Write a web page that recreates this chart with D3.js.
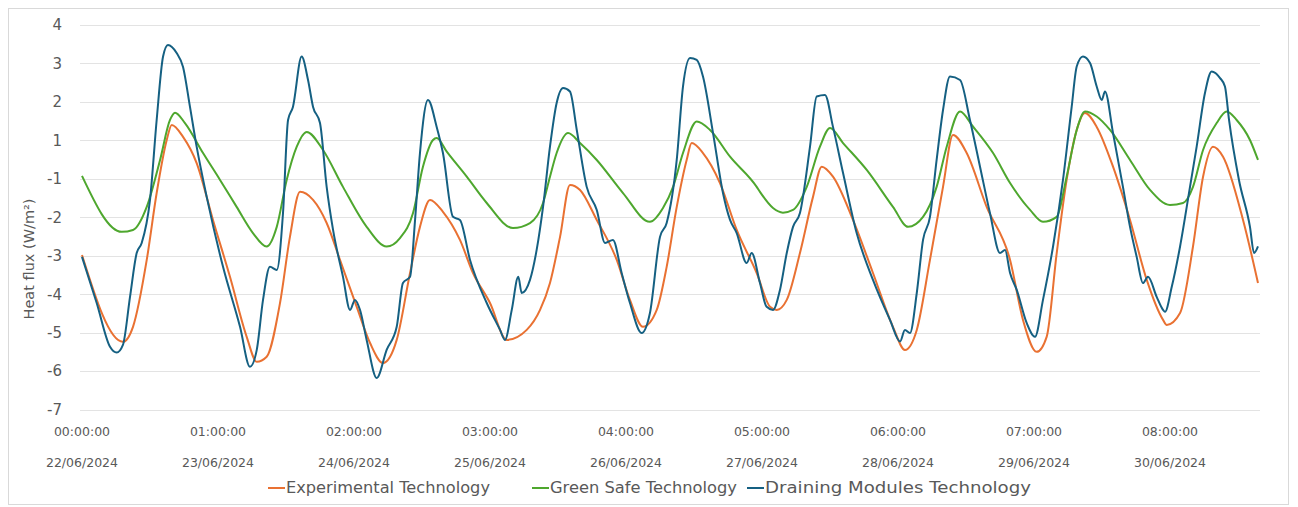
<!DOCTYPE html>
<html>
<head>
<meta charset="utf-8">
<script src="https://cdn.jsdelivr.net/npm/d3@7"></script>
<style>
  body { margin: 0; background: #fff; }
  svg text { font-family: "DejaVu Sans", sans-serif; fill: #595959; }
</style>
</head>
<body>
<div class="chart"></div>
<script>
// y tick labels (the chart skips 0: 1 is followed directly by -1)
const yTicks = [4, 3, 2, 1, -1, -2, -3, -4, -5, -6, -7];
const dayTicks = [0, 1, 2, 3, 4, 5, 6, 7, 8];
const timeLabels = ["00:00:00", "01:00:00", "02:00:00", "03:00:00", "04:00:00",
  "05:00:00", "06:00:00", "07:00:00", "08:00:00"];
const dateLabels = ["22/06/2024", "23/06/2024", "24/06/2024", "25/06/2024", "26/06/2024",
  "27/06/2024", "28/06/2024", "29/06/2024", "30/06/2024"];

const seriesNames = ["Experimental Technology", "Green Safe Technology", "Draining Modules Technology"];
const seriesColors = ["#E97132", "#4EA72E", "#156082"];

// [day, heat flux]
const experimental = [
  [0, -2.98], [0.301, -5.24], [0.375, -4.85], [0.476, -3.11], [0.549, -1.37], [0.623, 1.01],
  [0.660, 1.40], [0.743, 1.09], [0.843, -0.18], [0.963, -2.07], [1.088, -3.55], [1.211, -5.11],
  [1.285, -5.76], [1.358, -5.63], [1.456, -4.23], [1.529, -2.51], [1.603, -1.34], [1.699, -1.55],
  [1.799, -2.15], [1.897, -3.11], [2.020, -4.33], [2.118, -5.27], [2.213, -5.79], [2.314, -5.19],
  [2.412, -3.45], [2.485, -2.25], [2.559, -1.55], [2.654, -1.86], [2.779, -2.59], [2.875, -3.45],
  [3.000, -4.23], [3.123, -5.19], [3.270, -4.93], [3.368, -4.41], [3.441, -3.71], [3.515, -2.51],
  [3.588, -1.16], [3.662, -1.29], [3.785, -2.07], [3.932, -3.11], [4.029, -4.15], [4.125, -4.85],
  [4.226, -4.41], [4.299, -3.29], [4.373, -1.73], [4.446, -0.02], [4.483, 0.86], [4.566, 0.34],
  [4.691, -1.11], [4.814, -2.33], [4.961, -3.45], [5.059, -4.33], [5.108, -4.41], [5.182, -4.15],
  [5.279, -2.93], [5.375, -1.47], [5.439, -0.37], [5.522, -0.89], [5.669, -2.07], [5.816, -3.45],
  [5.963, -4.85], [6.051, -5.45], [6.138, -4.93], [6.235, -3.11], [6.331, -1.21], [6.404, 1.14],
  [6.505, 0.34], [6.652, -1.73], [6.824, -3.11], [6.919, -4.67], [7.020, -5.50], [7.093, -5.11],
  [7.167, -2.93], [7.240, -1.03], [7.314, 1.27], [7.375, 1.71], [7.461, 1.35], [7.581, -0.37],
  [7.706, -2.07], [7.829, -3.63], [7.949, -4.67], [7.976, -4.80], [8.074, -4.49], [8.169, -2.76],
  [8.243, -0.89], [8.316, 0.67], [8.390, 0.15], [8.537, -2.07], [8.647, -3.71]
];

const greenSafe = [
  [0, -0.85], [0.292, -2.38], [0.375, -2.33], [0.476, -1.73], [0.574, -0.02], [0.647, 1.53],
  [0.684, 1.72], [0.757, 1.45], [0.890, 0.34], [1.015, -1.03], [1.137, -1.73], [1.257, -2.41],
  [1.358, -2.76], [1.432, -2.25], [1.505, -1.03], [1.579, 0.67], [1.652, 1.22], [1.772, 0.50],
  [1.919, -1.21], [2.093, -2.25], [2.240, -2.76], [2.338, -2.54], [2.434, -1.89], [2.507, -0.37],
  [2.581, 1.01], [2.608, 1.06], [2.682, 0.41], [2.829, -0.89], [2.976, -1.63], [3.169, -2.28],
  [3.294, -2.15], [3.390, -1.63], [3.441, -0.89], [3.490, 0.34], [3.574, 1.19], [3.662, 0.86],
  [3.785, -0.02], [3.978, -1.37], [4.176, -2.12], [4.272, -1.76], [4.346, -1.21], [4.419, 0.34],
  [4.520, 1.49], [4.618, 1.27], [4.765, 0.15], [4.961, -1.21], [4.985, -1.34], [5.081, -1.76],
  [5.154, -1.88], [5.228, -1.81], [5.329, -1.21], [5.426, 0.67], [5.500, 1.32], [5.596, 0.86],
  [5.770, -0.54], [5.963, -1.73], [6.074, -2.25], [6.184, -1.99], [6.284, -1.21], [6.358, 0.67],
  [6.456, 1.75], [6.551, 1.36], [6.699, 0.34], [6.824, -1.11], [6.971, -1.81], [7.066, -2.12],
  [7.167, -1.99], [7.240, -0.89], [7.314, 1.27], [7.375, 1.75], [7.461, 1.62], [7.559, 1.27],
  [7.706, -0.02], [7.853, -1.29], [8.000, -1.68], [8.096, -1.63], [8.169, -1.21], [8.243, 0.50],
  [8.343, 1.45], [8.417, 1.75], [8.490, 1.53], [8.588, 1.01], [8.647, -0.02]
];

const draining = [
  [0, -3.03], [0.108, -4.23], [0.206, -5.37], [0.255, -5.52], [0.301, -5.32], [0.353, -4.07],
  [0.402, -2.93], [0.439, -2.67], [0.500, -1.55], [0.549, 1.53], [0.596, 3.18], [0.632, 3.48],
  [0.696, 3.27], [0.743, 2.91], [0.794, 1.87], [0.843, 0.67], [0.917, -1.47], [1.037, -3.29],
  [1.162, -4.85], [1.235, -5.89], [1.285, -5.45], [1.331, -4.15], [1.382, -3.29], [1.432, -3.37],
  [1.478, -1.89], [1.515, 1.53], [1.551, 1.87], [1.615, 3.18], [1.662, 2.57], [1.699, 1.87],
  [1.750, 1.45], [1.799, -1.21], [1.846, -2.33], [1.919, -3.55], [1.971, -4.41], [2.007, -4.15],
  [2.044, -4.41], [2.093, -5.19], [2.167, -6.18], [2.240, -5.45], [2.314, -4.85], [2.360, -3.71],
  [2.412, -3.55], [2.449, -2.07], [2.485, 0.34], [2.544, 2.05], [2.608, 1.35], [2.654, 0.34],
  [2.728, -1.99], [2.779, -2.07], [2.853, -3.11], [2.976, -4.23], [3.074, -4.93], [3.110, -5.19],
  [3.160, -4.41], [3.208, -3.55], [3.233, -3.97], [3.294, -3.63], [3.343, -2.85], [3.390, -1.73],
  [3.441, 0.67], [3.490, 1.97], [3.537, 2.36], [3.588, 2.27], [3.638, 1.27], [3.711, -1.21],
  [3.785, -1.81], [3.846, -2.67], [3.904, -2.59], [3.968, -3.45], [4.029, -4.23], [4.115, -5.01],
  [4.176, -4.49], [4.250, -2.51], [4.299, -2.15], [4.373, -0.02], [4.419, 2.40], [4.471, 3.14],
  [4.520, 3.09], [4.566, 2.66], [4.640, 1.19], [4.713, -1.37], [4.765, -2.07], [4.814, -2.41],
  [4.887, -3.19], [4.924, -2.93], [4.985, -3.71], [5.034, -4.33], [5.081, -4.41], [5.132, -3.89],
  [5.182, -2.93], [5.228, -2.25], [5.279, -1.89], [5.353, 0.67], [5.402, 2.14], [5.463, 2.18],
  [5.522, 1.35], [5.596, -0.70], [5.696, -2.41], [5.816, -3.63], [5.941, -4.67], [6.015, -5.23],
  [6.051, -4.93], [6.088, -5.01], [6.138, -3.97], [6.184, -2.59], [6.235, -1.99], [6.284, -0.02],
  [6.331, 1.79], [6.382, 2.66], [6.456, 2.57], [6.529, 1.53], [6.603, -0.37], [6.676, -1.89],
  [6.750, -2.93], [6.787, -2.85], [6.824, -3.45], [6.873, -3.89], [6.946, -4.75], [7.007, -5.11],
  [7.066, -4.15], [7.140, -2.76], [7.213, -1.03], [7.277, 1.87], [7.314, 2.92], [7.360, 3.18],
  [7.412, 3.01], [7.461, 2.40], [7.498, 2.05], [7.522, 2.27], [7.581, 1.19], [7.654, -1.21],
  [7.706, -2.25], [7.755, -3.03], [7.801, -3.71], [7.838, -3.55], [7.902, -4.07], [7.949, -4.41],
  [7.963, -4.46], [8.013, -3.81], [8.074, -2.76], [8.147, -1.21], [8.196, 0.67], [8.257, 2.23],
  [8.306, 2.79], [8.368, 2.62], [8.404, 2.40], [8.434, 1.53], [8.507, -1.03], [8.588, -2.25],
  [8.618, -2.93], [8.647, -2.76]
];

const width = 1298, height = 507;

const svg = d3.select(".chart").append("svg")
  .attr("width", width)
  .attr("height", height);

// chart frame
svg.append("rect")
  .attr("x", 8.5).attr("y", 8.5)
  .attr("width", 1280).attr("height", 496)
  .attr("fill", "#fff")
  .attr("stroke", "#d9d9d9");

const x = d3.scaleLinear().domain([0, 8.647]).range([82, 1258]);
// the axis has no 0 step, so the band between 1 and -1 is one tick wide
const y = d3.scaleLinear()
  .domain([-7, -1, 1, 4])
  .range([409.5, 178.8, 140.35, 25]);

// gridlines
svg.append("g")
  .selectAll("line")
  .data(yTicks)
  .join("line")
  .attr("x1", 80).attr("x2", 1260)
  .attr("y1", d => Math.round(y(d)) + 0.5)
  .attr("y2", d => Math.round(y(d)) + 0.5)
  .attr("stroke", "#e3e3e3")
  .attr("stroke-width", 1);

// y axis labels
svg.append("g")
  .selectAll("text")
  .data(yTicks)
  .join("text")
  .attr("x", 62)
  .attr("y", d => y(d))
  .attr("dy", "0.36em")
  .attr("text-anchor", "end")
  .attr("font-size", 15)
  .text(d => d);

// y axis title
svg.append("text")
  .attr("transform", "translate(34," + 259 + ") rotate(-90)")
  .attr("text-anchor", "middle")
  .attr("font-size", 14.5)
  .text("Heat flux (W/m²)");

// x axis labels: time row and date row
const xLab = svg.append("g");
xLab.selectAll("text.time")
  .data(dayTicks)
  .join("text")
  .attr("class", "time")
  .attr("x", d => x(d))
  .attr("y", 431)
  .attr("dy", "0.36em")
  .attr("text-anchor", "middle")
  .attr("font-size", 12.5)
  .text((d, i) => timeLabels[i]);

xLab.selectAll("text.date")
  .data(dayTicks)
  .join("text")
  .attr("class", "date")
  .attr("x", d => x(d))
  .attr("y", 462)
  .attr("dy", "0.36em")
  .attr("text-anchor", "middle")
  .attr("font-size", 12.5)
  .text((d, i) => dateLabels[i]);

// series
const line = d3.line()
  .x(d => x(d[0]))
  .y(d => y(d[1]))
  .curve(d3.curveMonotoneX);

const allSeries = [experimental, greenSafe, draining];
svg.append("g")
  .selectAll("path")
  .data(allSeries)
  .join("path")
  .attr("fill", "none")
  .attr("stroke", (d, i) => seriesColors[i])
  .attr("stroke-width", 2)
  .attr("stroke-linejoin", "round")
  .attr("d", line);

// legend
const legendX = [268, 532, 747];
const legendW = [204, 187, 266];
const legend = svg.append("g")
  .selectAll("g")
  .data(seriesNames)
  .join("g")
  .attr("transform", (d, i) => "translate(" + legendX[i] + ",488)");

legend.append("line")
  .attr("x1", 0).attr("x2", 17)
  .attr("stroke", (d, i) => seriesColors[i])
  .attr("stroke-width", 2);

legend.append("text")
  .attr("x", 18)
  .attr("dy", "0.36em")
  .attr("font-size", 15)
  .attr("textLength", (d, i) => legendW[i])
  .attr("lengthAdjust", "spacingAndGlyphs")
  .text(d => d);
</script>
</body>
</html>
